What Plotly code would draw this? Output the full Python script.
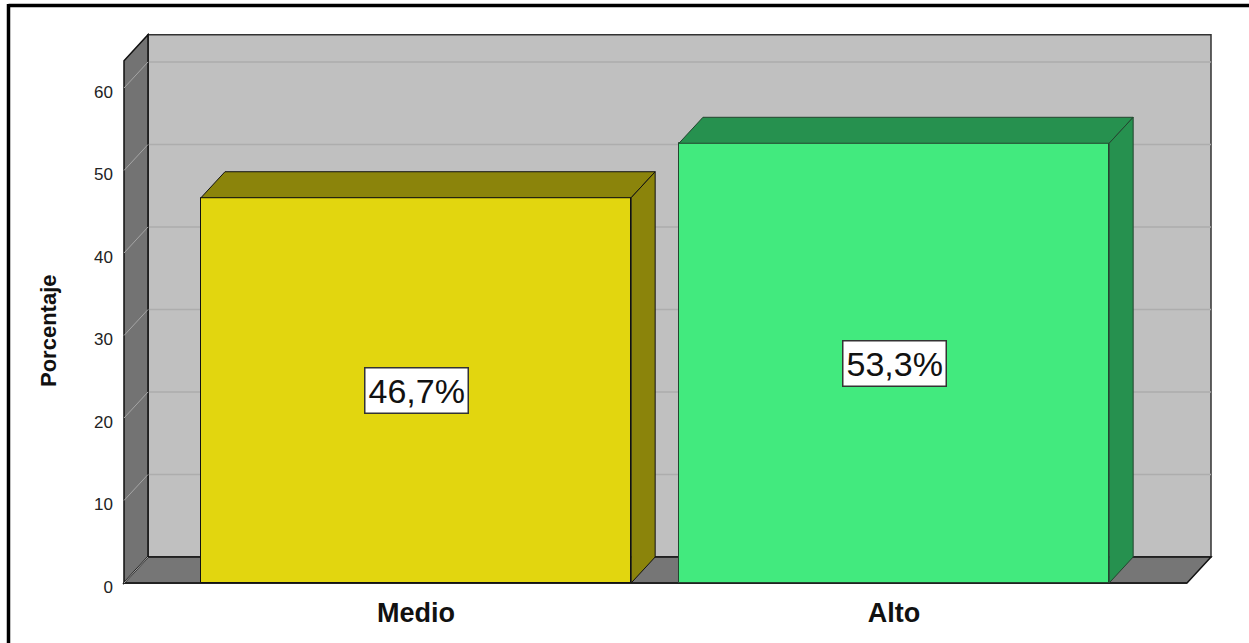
import plotly.graph_objects as go

# ---- data ----
categories = ["Medio", "Alto"]
values = [46.7, 53.3]
value_labels = ["46,7%", "53,3%"]
y_ticks = [0, 10, 20, 30, 40, 50, 60]
y_title = "Porcentaje"

front_colors = ["#e2d60f", "#42ea7e"]
shade_colors = ["#8b840b", "#26914f"]
edge_colors = ["#111111", "#24452f"]

# ---- geometry (axis units) ----
W, H = 1249, 643
PL, PR, PT, PB = 118, 1216, 30, 590          # plot area in px
X0PX, SX = 124, 478.0                         # px of front-left wall, px per category
Y0PX, SY = 583, 8.25                          # px of value 0, px per unit
XL = -0.611
XR = XL + (1187 - X0PX) / SX
DX = 24 / SX
DY = 3.15
WALL_TOP = 63.3
BAR_W = 0.9

x_min = XL - (X0PX - PL) / SX
x_max = XL + (PR - X0PX) / SX
v_min = -(PB - Y0PX) / SY
v_max = (Y0PX - PT) / SY

fig = go.Figure()
shapes = []

def poly(xs, ys):
    d = "M " + " L ".join(f"{x},{y}" for x, y in zip(xs, ys)) + " Z"
    return d

# back wall
shapes.append(dict(type="path", xref="x", yref="y", layer="below",
                   path=poly([XL + DX, XR + DX, XR + DX, XL + DX],
                             [DY, DY, WALL_TOP + DY, WALL_TOP + DY]),
                   fillcolor="#c0c0c0", line=dict(color="#333333", width=1.5)))
# back wall grid lines
for t in y_ticks[1:]:
    shapes.append(dict(type="line", xref="x", yref="y", layer="below",
                       x0=XL + DX, x1=XR + DX, y0=t + DY, y1=t + DY,
                       line=dict(color="#adadad", width=1.5)))
# side wall
shapes.append(dict(type="path", xref="x", yref="y", layer="below",
                   path=poly([XL, XL + DX, XL + DX, XL],
                             [0, DY, WALL_TOP + DY, WALL_TOP]),
                   fillcolor="#737373", line=dict(color="#111111", width=1.5)))
# floor
shapes.append(dict(type="path", xref="x", yref="y", layer="below",
                   path=poly([XL, XR, XR + DX, XL + DX], [0, 0, DY, DY]),
                   fillcolor="#767676", line=dict(color="#111111", width=1.5)))
shapes.append(dict(type="line", xref="x", yref="y", layer="below",
                   x0=XL, x1=XR, y0=0, y1=0, line=dict(color="#222222", width=2)))
# side wall grid lines
for t in y_ticks:
    shapes.append(dict(type="line", xref="x", yref="y", layer="below",
                       x0=XL, x1=XL + DX, y0=t, y1=t + DY,
                       line=dict(color="#a5a5a5", width=1)))

# front faces of bars
xs = list(range(len(categories)))
fig.add_trace(go.Bar(x=xs, y=values, width=BAR_W,
                     marker=dict(color=front_colors,
                                 line=dict(color=edge_colors, width=1)),
                     hoverinfo="skip", showlegend=False))

# top and side faces
for i, v in enumerate(values):
    xl, xr = i - BAR_W / 2, i + BAR_W / 2
    fig.add_trace(go.Scatter(x=[xl, xr, xr + DX, xl + DX, xl],
                             y=[v, v, v + DY, v + DY, v],
                             fill="toself", fillcolor=shade_colors[i], mode="lines",
                             line=dict(color=edge_colors[i], width=1),
                             hoverinfo="skip", showlegend=False))
    fig.add_trace(go.Scatter(x=[xr, xr + DX, xr + DX, xr, xr],
                             y=[0, DY, v + DY, v, 0],
                             fill="toself", fillcolor=shade_colors[i], mode="lines",
                             line=dict(color=edge_colors[i], width=1),
                             hoverinfo="skip", showlegend=False))

annotations = []
for i, v in enumerate(values):
    annotations.append(dict(x=i, y=v / 2, xref="x", yref="y", text=value_labels[i],
                            showarrow=False, bgcolor="white", bordercolor="#333333",
                            borderwidth=1.5, borderpad=3,
                            font=dict(family="Liberation Sans, Arial, sans-serif",
                                      size=34, color="#111111")))

pw, ph = PR - PL, PB - PT
def px_x(p):
    return (p - PL) / pw
def px_y(p):
    return (PB - p) / ph

annotations.append(dict(x=px_x(48), y=px_y(331), xref="paper", yref="paper",
                        text=y_title, textangle=-90, showarrow=False,
                        xanchor="center", yanchor="middle",
                        font=dict(family="Liberation Sans, Arial, sans-serif",
                                  size=22, color="#111111", weight="bold")))

# outer frame (top and left edges)
shapes.append(dict(type="line", xref="paper", yref="paper",
                   x0=px_x(8.5), x1=px_x(1260), y0=px_y(5.5), y1=px_y(5.5),
                   line=dict(color="black", width=3.5)))
shapes.append(dict(type="line", xref="paper", yref="paper",
                   x0=px_x(8.5), x1=px_x(8.5), y0=px_y(4), y1=px_y(660),
                   line=dict(color="black", width=3.5)))

fig.update_layout(
    width=W, height=H,
    margin=dict(l=PL, r=W - PR, t=PT, b=H - PB, autoexpand=False),
    paper_bgcolor="white", plot_bgcolor="rgba(0,0,0,0)",
    shapes=shapes, annotations=annotations,
    bargap=0,
    xaxis=dict(range=[x_min, x_max], showgrid=False, zeroline=False, showline=False,
               tickvals=xs, ticktext=categories, ticks="", ticklabelstandoff=4,
               tickfont=dict(family="Liberation Sans, Arial, sans-serif", size=27,
                             color="#111111", weight="bold"),
               fixedrange=True),
    yaxis=dict(range=[v_min, v_max], showgrid=False, zeroline=False, showline=False,
               tickvals=y_ticks, ticks="", ticklabelstandoff=4, ticklabelshift=4,
               tickfont=dict(family="Liberation Sans, Arial, sans-serif", size=17,
                             color="#222222"),
               fixedrange=True),
)

fig.write_html("out.html")
